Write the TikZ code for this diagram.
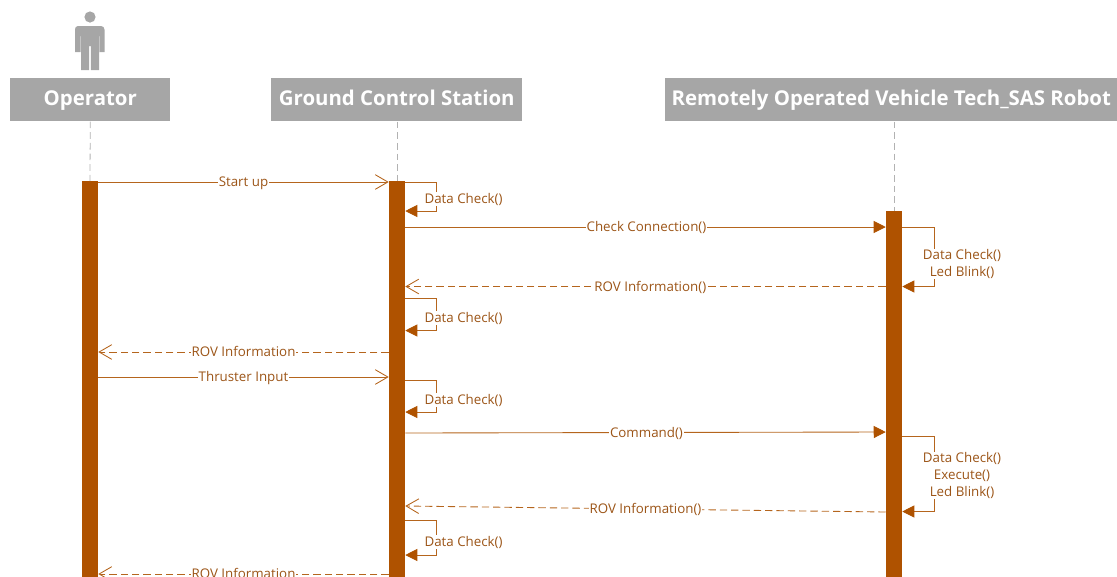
\documentclass[tikz,border=0pt]{standalone}
\usepackage{fontspec}
\setmainfont{Open Sans}
\usetikzlibrary{arrows.meta}
\definecolor{barc}{HTML}{AF5200}
\definecolor{linec}{HTML}{B5651D}
\definecolor{textc}{HTML}{9C5518}
\definecolor{headc}{HTML}{A6A6A6}
\tikzset{
 headbox/.style={fill=headc,draw=none,text=white,inner sep=0pt,minimum height=32.25pt,text height=12.5pt,text depth=3.5pt,font=\fontsize{15.3}{18}\selectfont\bfseries,anchor=north west},
 bar/.style={fill=barc,draw=none,inner sep=0pt,minimum width=12pt,anchor=north},
 life/.style={draw=black!30,line width=0.6pt,dash pattern=on 5pt off 3pt},
 msg/.style={draw=linec,line width=0.65pt},
 solidtip/.style={-{Triangle[length=9pt,width=9pt,fill=barc,color=barc]}},
 opentip/.style={-{Straight Barb[length=9.5pt,width=11pt,color=linec]}},
 dash msg/.style={dash pattern=on 5.5pt off 3pt},
 labbase/.style={fill=white,text=textc,inner xsep=0.6pt,inner ysep=0.5pt,font=\fontsize{10}{12.4}\selectfont,align=center},
 lab/.style={labbase,text height=8.4pt,text depth=1.6pt},
 actor/.style={fill=headc,draw=none}
}
\begin{document}
\begin{tikzpicture}[x=0.75pt,y=-0.75pt]
\useasboundingbox (0,0) rectangle (1117,576);
\clip (0,0) rectangle (1117,576);
% actor
\fill[actor] (90,17) circle (5.6);
\fill[actor] (78,26) -- (101,26) .. controls (103,26) and (104.5,27.5) .. (104.5,29.5) -- (104.5,52) -- (99.5,52) -- (99.5,36) -- (99,36) -- (99,70) -- (90.8,70) -- (90.8,46) -- (89.2,46) -- (89.2,70) -- (81,70) -- (81,36) -- (80.5,36) -- (80.5,52) -- (75,52) -- (75,29.5) .. controls (75,27.5) and (76,26) .. (78,26) -- cycle;
% heads
\node[headbox,minimum width=120pt] (op) at (10,78) {Operator};
\node[headbox,minimum width=188.25pt] (gcs) at (271,78) {Ground Control Station};
\node[headbox,minimum width=339pt] (rov) at (665,78) {Remotely Operated Vehicle Tech\_SAS Robot};
% activation bars
\node[bar,minimum height=300pt] (bop) at (90,181) {};
\node[bar,minimum height=300pt] (bgc) at (397,181) {};
\node[bar,minimum height=280pt] (bro) at (894,211) {};
% lifelines
\draw[life] (op.south) -- (bop.north);
\draw[life] (bgc.north |- gcs.south) -- (bgc.north);
\draw[life] (bro.north |- rov.south) -- (bro.north);
% rows
\foreach \n/\y in {a/182,b/211,c/227,d/286.5,e/298,f/330.5,g/352,h/377,i/380,j/412,k/433,l/432,m/436,n/511.5,o/520,p/555,q/574,r/506,s/512}
  \coordinate (y\n) at (0,\y);
\coordinate (gx) at (436,0);
\coordinate (rx) at (934,0);
% Start up
\draw[msg,opentip] (bop.east |- ya) -- node[lab,pos=.5] (t1) {Start up} (bgc.west |- ya);
% self GCS 1
\draw[msg,solidtip] (bgc.east |- ya) -- (gx |- ya) -- (gx |- yb) -- (bgc.east |- yb);
\node[lab,anchor=west] (t2) at (423.5,199) {Data Check()};
% Check connection
\draw[msg,solidtip] (bgc.east |- yc) -- node[lab,pos=.502] (t3) {Check Connection()} (bro.west |- yc);
% self ROV 1
\draw[msg,solidtip] (bro.east |- yc) -- (rx |- yc) -- (rx |- yd) -- (bro.east |- yd);
\node[labbase] (t4) at (962,264) {Data Check()\\Led Blink()};
% ROV info
\draw[msg,dash msg,opentip] (bro.west |- yd) -- node[lab,pos=.49] (t5) {ROV Information()} (bgc.east |- yd);
% self GCS 2
\draw[msg,solidtip] (bgc.east |- ye) -- (gx |- ye) -- (gx |- yf) -- (bgc.east |- yf);
\node[lab,anchor=west] (t6) at (423.5,318) {Data Check()};
% ROV info to operator
\draw[msg,dash msg,opentip] (bgc.west |- yg) -- node[lab,pos=.5] (t7) {ROV Information} (bop.east |- yg);
% Thruster
\draw[msg,opentip] (bop.east |- yh) -- node[lab,pos=.5] (t8) {Thruster Input} (bgc.west |- yh);
% self GCS 3
\draw[msg,solidtip] (bgc.east |- yi) -- (gx |- yi) -- (gx |- yj) -- (bgc.east |- yj);
\node[lab,anchor=west] (t9) at (423.5,400) {Data Check()};
% Command
\draw[msg,solidtip] (bgc.east |- yk) -- node[lab,pos=.502] (t10) {Command()} (bro.west |- yl);
% self ROV 2
\draw[msg,solidtip] (bro.east |- ym) -- (rx |- ym) -- (rx |- yn) -- (bro.east |- yn);
\node[labbase] (t11) at (962,475.5) {Data Check()\\Execute()\\Led Blink()};
% ROV info 2
\draw[msg,dash msg,opentip] (bro.west |- ys) -- node[lab,pos=.5] (t12) {ROV Information()} (bgc.east |- yr);
% self GCS 4
\draw[msg,solidtip] (bgc.east |- yo) -- (gx |- yo) -- (gx |- yp) -- (bgc.east |- yp);
\node[lab,anchor=west] (t13) at (423.5,542) {Data Check()};
% ROV info to operator 2
\draw[msg,dash msg,opentip] (bgc.west |- yq) -- node[lab,pos=.5] (t14) {ROV Information} (bop.east |- yq);
\end{tikzpicture}
\end{document}
